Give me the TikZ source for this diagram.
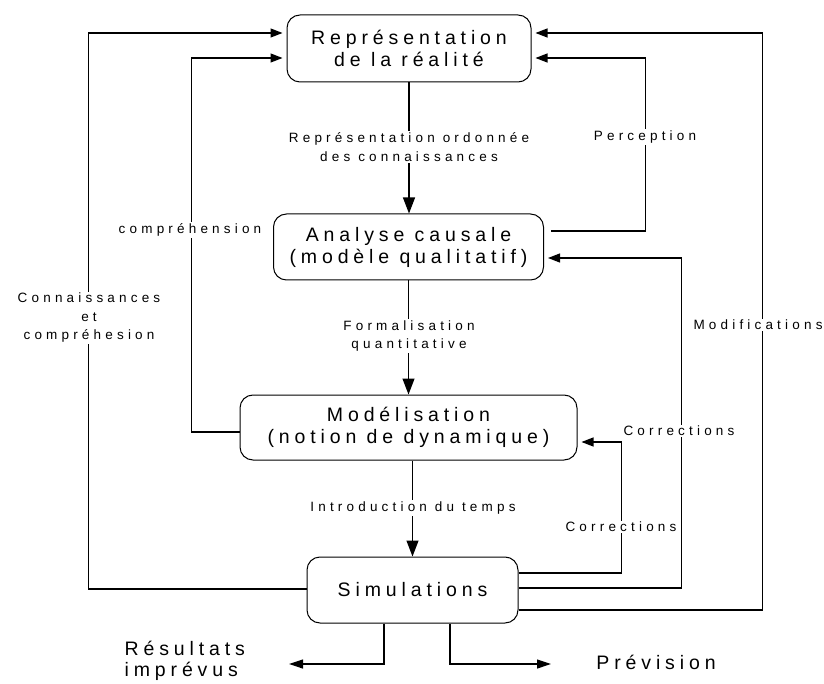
\documentclass[tikz,border=0pt]{standalone}
\usepackage{fontspec}
\setmainfont{Liberation Sans}
\newfontfamily\boxf[LetterSpace=25]{Liberation Sans}
\newfontfamily\labf[LetterSpace=31]{Liberation Sans}
\usetikzlibrary{arrows.meta}
\begin{document}
\begin{tikzpicture}[x=1pt,y=-1pt,line width=1.2pt,
  box/.style={draw,line width=1pt,rounded corners=13pt,align=center,inner sep=0pt,
    font=\boxf\fontsize{19.5}{22}\selectfont},
  lab/.style={fill=white,align=center,inner sep=1.5pt,
    font=\labf\fontsize{13.5}{18.5}\selectfont},
  big/.style={align=left,inner sep=0pt,font=\boxf\fontsize{19.5}{21}\selectfont},
  varr/.style={-{Triangle[length=16pt,width=12pt]}},
  sarr/.style={-{Triangle[length=12pt,width=9pt]},shorten >=4pt},
  barr/.style={-{Triangle[length=14pt,width=9pt]}}]
\useasboundingbox (0,0) rectangle (824,684);

\node[box,minimum width=244pt,minimum height=67pt] (b1) at (409,48.5) {Représentation\\de la réalité};
\node[box,minimum width=270pt,minimum height=66pt] (b2) at (408.5,247) {Analyse causale\\(modèle qualitatif)};
\node[box,minimum width=337pt,minimum height=65pt] (b3) at (408.5,427.5) {Modélisation\\(notion de dynamique)};
\node[box,minimum width=211pt,minimum height=66pt] (b4) at (412.5,590) {Simulations};

% main vertical flow
\draw[varr] (b1.south) -- (b1.south |- b2.north);
\draw[varr] (b2.south) -- (b2.south |- b3.north);
\draw[varr] (b3.south -| b4.north) -- (b4.north);

% Perception
\draw[sarr] ([xshift=7pt,yshift=16pt]b2.east) -| ([xshift=114pt,yshift=-9.5pt]b1.east) -- ([yshift=-9.5pt]b1.east);
% Modifications
\draw[sarr] ([yshift=-20pt]b4.east) -| ([xshift=231pt,yshift=15.5pt]b1.east) -- ([yshift=15.5pt]b1.east);
% Corrections (to analyse causale)
\draw[sarr] ([yshift=2pt]b4.east) -| ([xshift=137.5pt,yshift=-11pt]b2.east) -- ([yshift=-11pt]b2.east);
% Corrections (to modelisation)
\draw[sarr] ([yshift=17pt]b4.east) -| ([xshift=44pt,yshift=-14.5pt]b3.east) -- ([yshift=-14.5pt]b3.east);
% comprehension
\draw[sarr] ([yshift=-4.5pt]b3.west) -| ([xshift=-95pt,yshift=-9.5pt]b1.west) -- ([yshift=-9.5pt]b1.west);
% Connaissances et comprehesion
\draw[sarr] ([yshift=1pt]b4.west) -| ([xshift=-198pt,yshift=15.5pt]b1.west) -- ([yshift=15.5pt]b1.west);

% outputs
\coordinate (rend) at (289,664);
\coordinate (pend) at (551,664);
\draw[barr] ([xshift=-28.5pt]b4.south) |- (rend);
\draw[barr] ([xshift=37.5pt]b4.south) |- (pend);

% labels
\node[lab] (l1) at (409,147) {Représentation ordonnée\\des connaissances};
\node[lab] (l2) at (645,137) {Perception};
\node[lab] (l3) at (190,230) {compréhension};
\node[lab] (l4) at (89,318) {Connaissances\\et\\compréhesion};
\node[lab] (l5) at (409,336) {Formalisation\\quantitative};
\node[lab] (l6) at (758,325) {Modifications};
\node[lab] (l7) at (413,508) {Introduction du temps};
\node[lab] (l8) at (679,431) {Corrections};
\node[lab] (l9) at (621,527) {Corrections};

\node[big,anchor=west] (t1) at (124,661) {Résultats\\imprévus};
\node[big] (t2) at (656,662) {Prévision};
\end{tikzpicture}
\end{document}
